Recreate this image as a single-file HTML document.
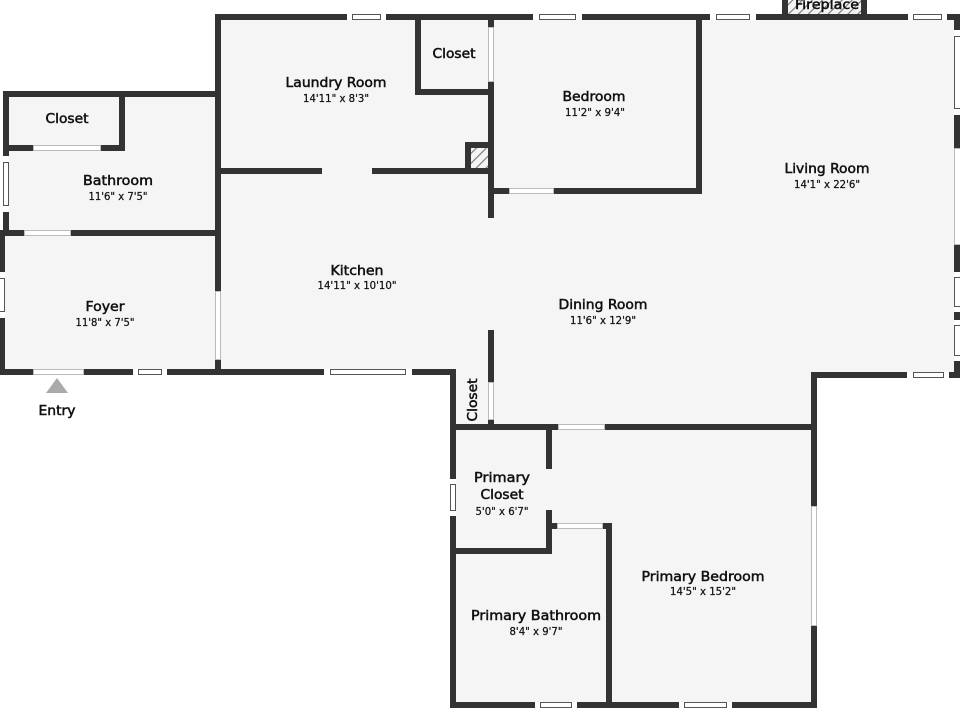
<!DOCTYPE html>
<html><head><meta charset="utf-8">
<style>
html,body{margin:0;padding:0;background:#fff}
svg{display:block}
text{font-family:"DejaVu Sans","Liberation Sans",sans-serif;fill:#111;text-anchor:middle}
.n{font-size:13px;stroke:#111;stroke-width:.5px}
.d{font-size:10.5px;stroke:#111;stroke-width:.25px}
</style></head><body>
<svg width="960" height="720" viewBox="0 0 960 720" xmlns="http://www.w3.org/2000/svg">
<defs>
<pattern id="h" width="7" height="7" patternUnits="userSpaceOnUse" patternTransform="rotate(45)">
<rect width="7" height="7" fill="#f4f4f4"/><rect width="1.1" height="7" fill="#777"/>
</pattern>
</defs>
<rect width="960" height="720" fill="#fff"/>
<!-- floors -->
<path d="M3 94H218V17H957V375H814V704H453V372H0V233H3Z" fill="#f5f5f5"/>
<!-- fireplace -->
<rect x="785" y="0" width="79" height="17" fill="url(#h)"/>
<!-- walls -->
<g fill="#333">
<rect x="215" y="14" width="745" height="6"/>
<rect x="215" y="14" width="6" height="358"/>
<rect x="3" y="91" width="213" height="6"/>
<rect x="3" y="91" width="6" height="145"/>
<rect x="119" y="91" width="6" height="60"/>
<rect x="3" y="145" width="122" height="6"/>
<rect x="0" y="230" width="216" height="6"/>
<rect x="0" y="233" width="5" height="142"/>
<rect x="0" y="369" width="456" height="6"/>
<rect x="450" y="369" width="6" height="339"/>
<rect x="488" y="14" width="6" height="204"/>
<rect x="488" y="330" width="6" height="94"/>
<rect x="415" y="14" width="6" height="81"/>
<rect x="415" y="89" width="79" height="6"/>
<rect x="221" y="168" width="101" height="6"/>
<rect x="372" y="168" width="116" height="6"/>
<rect x="465" y="142" width="25" height="32"/>
<rect x="494" y="188" width="208" height="6"/>
<rect x="696" y="14" width="6" height="180"/>
<rect x="782" y="0" width="6" height="20"/>
<rect x="861" y="0" width="6" height="20"/>
<rect x="954" y="14" width="6" height="364"/>
<rect x="811" y="372" width="149" height="6"/>
<rect x="811" y="372" width="6" height="336"/>
<rect x="450" y="424" width="367" height="6"/>
<rect x="546" y="424" width="6" height="45"/>
<rect x="546" y="510" width="6" height="44"/>
<rect x="450" y="548" width="102" height="6"/>
<rect x="546" y="523" width="66" height="6"/>
<rect x="606" y="523" width="6" height="185"/>
<rect x="450" y="702" width="367" height="6"/>
</g>
<rect x="471" y="148" width="17" height="20" fill="url(#h)"/>
<!-- doors -->
<g fill="#fff" stroke="#bbb" stroke-width="1">
<rect x="33.500" y="145.500" width="67" height="5"/>
<rect x="24.500" y="230.500" width="46" height="5"/>
<rect x="33.500" y="369.500" width="50" height="5"/>
<rect x="215.500" y="291.500" width="5" height="68"/>
<rect x="488.500" y="27.500" width="5" height="54"/>
<rect x="509.500" y="188.500" width="44" height="5"/>
<rect x="488.500" y="382.500" width="5" height="37"/>
<rect x="558.500" y="424.500" width="46" height="5"/>
<rect x="557.500" y="523.500" width="45" height="5"/>
<rect x="811.500" y="506.500" width="5" height="119"/>
<rect x="954.500" y="148.500" width="6" height="96"/>
</g>
<!-- windows horizontal -->
<g fill="#fff" stroke="#555" stroke-width="1">
<rect x="347" y="14" width="39" height="6" stroke="none"/><rect x="352.500" y="14.500" width="28" height="5"/>
<rect x="533" y="14" width="49" height="6" stroke="none"/><rect x="539.500" y="14.500" width="36" height="5"/>
<rect x="710" y="14" width="46" height="6" stroke="none"/><rect x="716.500" y="14.500" width="33" height="5"/>
<rect x="908" y="14" width="39" height="6" stroke="none"/><rect x="913.500" y="14.500" width="28" height="5"/>
<rect x="133" y="369" width="34" height="6" stroke="none"/><rect x="138.500" y="369.500" width="23" height="5"/>
<rect x="324" y="369" width="88" height="6" stroke="none"/><rect x="330.500" y="369.500" width="75" height="5"/>
<rect x="907" y="372" width="42" height="6" stroke="none"/><rect x="913.500" y="372.500" width="30" height="5"/>
<rect x="535" y="702" width="42" height="6" stroke="none"/><rect x="540.500" y="702.500" width="31" height="5"/>
<rect x="679" y="702" width="53" height="6" stroke="none"/><rect x="684.500" y="702.500" width="42" height="5"/>
<!-- windows vertical -->
<rect x="3" y="156" width="6" height="56" stroke="none"/><rect x="3.500" y="162.500" width="5" height="43"/>
<rect x="0" y="272" width="5" height="46" stroke="none"/><rect x="-1" y="278.500" width="5.500" height="33"/>
<rect x="954" y="30" width="6" height="85" stroke="none"/><rect x="954.500" y="36.500" width="6" height="72"/>
<rect x="954" y="272" width="6" height="40" stroke="none"/><rect x="954.500" y="277.500" width="6" height="29"/>
<rect x="954" y="320" width="6" height="41" stroke="none"/><rect x="954.500" y="325.500" width="6" height="30"/>
<rect x="450" y="479" width="6" height="37" stroke="none"/><rect x="450.500" y="484.500" width="5" height="26"/>
</g>
<!-- entry -->
<polygon points="57,378 68,393 46,393" fill="#aaa"/>
<!-- labels -->
<text class="n" x="827" y="9" textLength="64" lengthAdjust="spacingAndGlyphs">Fireplace</text>
<text class="n" x="336" y="87" textLength="101" lengthAdjust="spacingAndGlyphs">Laundry Room</text>
<text class="d" x="336" y="102" textLength="66" lengthAdjust="spacingAndGlyphs">14'11" x 8'3"</text>
<text class="n" x="454" y="58" textLength="43" lengthAdjust="spacingAndGlyphs">Closet</text>
<text class="n" x="594" y="101" textLength="63" lengthAdjust="spacingAndGlyphs">Bedroom</text>
<text class="d" x="595" y="116" textLength="60" lengthAdjust="spacingAndGlyphs">11'2" x 9'4"</text>
<text class="n" x="827" y="173" textLength="85" lengthAdjust="spacingAndGlyphs">Living Room</text>
<text class="d" x="827" y="188" textLength="66" lengthAdjust="spacingAndGlyphs">14'1" x 22'6"</text>
<text class="n" x="67" y="123" textLength="43" lengthAdjust="spacingAndGlyphs">Closet</text>
<text class="n" x="118" y="185" textLength="70" lengthAdjust="spacingAndGlyphs">Bathroom</text>
<text class="d" x="118" y="200" textLength="59" lengthAdjust="spacingAndGlyphs">11'6" x 7'5"</text>
<text class="n" x="105" y="311" textLength="39" lengthAdjust="spacingAndGlyphs">Foyer</text>
<text class="d" x="105" y="326" textLength="59" lengthAdjust="spacingAndGlyphs">11'8" x 7'5"</text>
<text class="n" x="357" y="275" textLength="53" lengthAdjust="spacingAndGlyphs">Kitchen</text>
<text class="d" x="357" y="289" textLength="79" lengthAdjust="spacingAndGlyphs">14'11" x 10'10"</text>
<text class="n" x="603" y="309" textLength="89" lengthAdjust="spacingAndGlyphs">Dining Room</text>
<text class="d" x="603" y="324" textLength="66" lengthAdjust="spacingAndGlyphs">11'6" x 12'9"</text>
<text class="n" x="57" y="415" textLength="37" lengthAdjust="spacingAndGlyphs">Entry</text>
<text class="n" transform="translate(477 400) rotate(-90)" textLength="43" lengthAdjust="spacingAndGlyphs">Closet</text>
<text class="n" x="502" y="482" textLength="56" lengthAdjust="spacingAndGlyphs">Primary</text>
<text class="n" x="502" y="499" textLength="43" lengthAdjust="spacingAndGlyphs">Closet</text>
<text class="d" x="502" y="515" textLength="53" lengthAdjust="spacingAndGlyphs">5'0" x 6'7"</text>
<text class="n" x="703" y="581" textLength="123" lengthAdjust="spacingAndGlyphs">Primary Bedroom</text>
<text class="d" x="703" y="595" textLength="66" lengthAdjust="spacingAndGlyphs">14'5" x 15'2"</text>
<text class="n" x="536" y="620" textLength="130" lengthAdjust="spacingAndGlyphs">Primary Bathroom</text>
<text class="d" x="536" y="635" textLength="53" lengthAdjust="spacingAndGlyphs">8'4" x 9'7"</text>
</svg>
</body></html>
